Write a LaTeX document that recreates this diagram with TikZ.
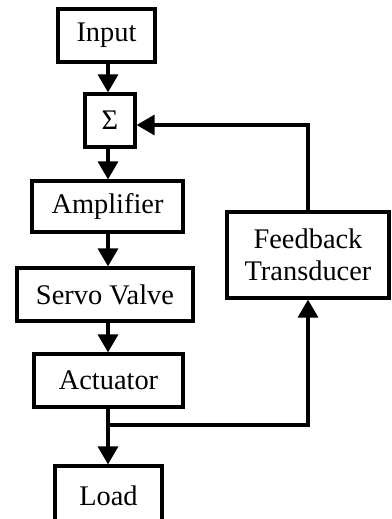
\documentclass[tikz,border=0pt]{standalone}
\usepackage{fontspec}
\setmainfont{Liberation Serif}
\usetikzlibrary{arrows.meta}
\tikzset{
  block/.style={draw, line width=1.6pt, inner sep=0pt, align=center,
    font=\fontsize{14.2}{16}\selectfont},
  flow/.style={line width=1.6pt, -{Triangle[length=9pt,width=10pt]}},
  wire/.style={line width=1.6pt}
}
\begin{document}
\begin{tikzpicture}[x=0.5pt,y=-0.5pt]
  \useasboundingbox (0,0) rectangle (391,519);
  \clip (0,0) rectangle (391,519);
  \node[block, minimum width=48.5pt, minimum height=26.5pt] (in)  at (106.5,35.5) {Input};
  \node[block, minimum width=25pt,   minimum height=26.5pt] (sum) at (110,120.5) {Σ};
  \node[block, minimum width=75.5pt, minimum height=25.5pt] (amp) at (107.5,206.5) {Amplifier};
  \node[block, minimum width=88pt,   minimum height=26.5pt] (sv)  at (105,294.5) {Servo Valve};
  \node[block, minimum width=74.5pt, minimum height=26.5pt] (act) at (108.5,380.5) {Actuator};
  \node[block, minimum width=53.5pt, minimum height=30pt] (load) at (108.5,496) {Load};
  \node[block, minimum width=81pt,   minimum height=43pt]   (fb)  at (308,255) {Feedback\\Transducer};

  % forward path
  \draw[flow] (in.south -| 108,0) -- (sum.north -| 108,0);
  \draw[flow] (sum.south -| 108,0) -- (amp.north -| 108,0);
  \draw[flow] (amp.south -| 108,0) -- (sv.north -| 108,0);
  \draw[flow] (sv.south -| 108,0) -- (act.north -| 108,0);
  \draw[flow] (act.south -| 108,0) -- (load.north -| 108,0);

  % feedback loop
  \coordinate (tap) at (108,425);
  \draw[flow] (tap) -| (fb.south);
  \draw[flow] (fb.north) |- (sum.east |- 0,125);
\end{tikzpicture}
\end{document}
